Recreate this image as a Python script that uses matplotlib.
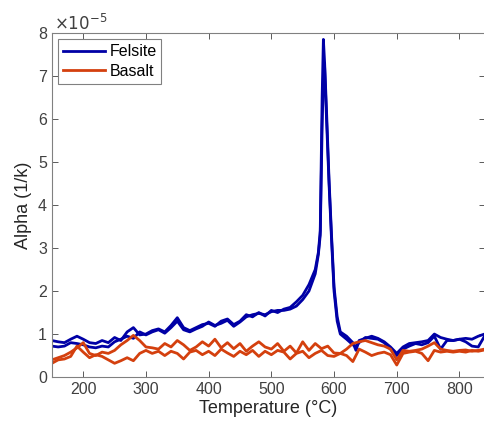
import matplotlib.pyplot as plt
import numpy as np

plt.rcParams['font.family'] = ['Liberation Sans', 'DejaVu Sans']

# temperature grids (degC)
felsiteTemp = [150, 160, 170, 180, 190, 200, 210, 220, 230, 240,
               250, 260, 270, 280, 290, 300, 310, 320, 330, 340,
               350, 360, 370, 380, 390, 400, 410, 420, 430, 440,
               450, 460, 470, 480, 490, 500, 510, 520, 530, 540,
               550, 560, 570, 575, 578, 581, 583, 585, 588, 592,
               596, 600, 605, 610, 620, 630, 635, 640, 650, 660,
               670, 680, 690, 700, 710, 720, 730, 740, 750, 760,
               770, 780, 790, 800, 810, 820, 830, 840]
basaltTemp = list(range(150, 841, 10))

# alpha values in units of 1e-5 1/K
felsiteRun1 = [0.85, 0.82, 0.80, 0.88, 0.95, 0.88, 0.80, 0.78, 0.85, 0.80,
               0.92, 0.85, 1.05, 1.15, 0.98, 1.00, 1.08, 1.12, 1.05, 1.20,
               1.38, 1.15, 1.08, 1.15, 1.22, 1.25, 1.18, 1.30, 1.35, 1.22,
               1.30, 1.45, 1.40, 1.50, 1.42, 1.55, 1.50, 1.58, 1.62, 1.75,
               1.90, 2.15, 2.50, 2.90, 3.40, 6.50, 7.85, 7.30, 6.20, 4.60,
               3.30, 2.10, 1.40, 1.05, 0.95, 0.80, 0.62, 0.85, 0.90, 0.95,
               0.90, 0.82, 0.70, 0.55, 0.70, 0.78, 0.80, 0.82, 0.85, 1.00,
               0.92, 0.88, 0.85, 0.88, 0.90, 0.88, 0.95, 1.00]
felsiteRun2 = [0.72, 0.70, 0.72, 0.80, 0.78, 0.75, 0.70, 0.68, 0.72, 0.70,
               0.82, 0.88, 0.95, 0.90, 1.05, 0.98, 1.05, 1.10, 1.02, 1.15,
               1.30, 1.10, 1.05, 1.12, 1.18, 1.28, 1.20, 1.25, 1.32, 1.18,
               1.28, 1.40, 1.45, 1.48, 1.45, 1.52, 1.55, 1.55, 1.58, 1.65,
               1.80, 2.00, 2.40, 2.85, 3.30, 5.80, 7.00, 7.20, 6.00, 4.50,
               3.20, 2.00, 1.30, 1.00, 0.88, 0.75, 0.72, 0.80, 0.92, 0.90,
               0.88, 0.80, 0.65, 0.50, 0.65, 0.72, 0.78, 0.75, 0.80, 0.95,
               0.65, 0.85, 0.85, 0.88, 0.82, 0.72, 0.70, 0.95]
basaltRun1 = [0.40, 0.45, 0.50, 0.58, 0.68, 0.80, 0.55, 0.50, 0.58, 0.55,
              0.62, 0.75, 0.85, 0.97, 0.85, 0.70, 0.68, 0.65, 0.78, 0.70,
              0.85, 0.75, 0.62, 0.70, 0.82, 0.72, 0.88, 0.68, 0.80, 0.66,
              0.78, 0.60, 0.72, 0.82, 0.70, 0.65, 0.78, 0.60, 0.72, 0.56,
              0.82, 0.62, 0.78, 0.66, 0.72, 0.56, 0.55, 0.65, 0.78, 0.82,
              0.85, 0.80, 0.75, 0.72, 0.65, 0.40, 0.62, 0.60, 0.62, 0.65,
              0.72, 0.80, 0.65, 0.62, 0.60, 0.62, 0.63, 0.60, 0.62, 0.65]
basaltRun2 = [0.32, 0.40, 0.42, 0.48, 0.72, 0.58, 0.45, 0.52, 0.48, 0.40,
              0.32, 0.38, 0.45, 0.38, 0.55, 0.62, 0.55, 0.60, 0.50, 0.60,
              0.55, 0.42, 0.58, 0.62, 0.52, 0.60, 0.50, 0.65, 0.56, 0.48,
              0.60, 0.52, 0.62, 0.48, 0.60, 0.52, 0.62, 0.58, 0.42, 0.55,
              0.60, 0.45, 0.55, 0.62, 0.50, 0.48, 0.55, 0.50, 0.36, 0.65,
              0.58, 0.50, 0.55, 0.58, 0.52, 0.28, 0.55, 0.58, 0.60, 0.55,
              0.38, 0.62, 0.58, 0.60, 0.58, 0.60, 0.58, 0.62, 0.60, 0.63]

blue = '#0000A6'
orange = '#D4400E'
grey = '#404040'

fig = plt.figure(figsize=(4.85, 4.28), dpi=100)
ax = fig.add_axes([0.107, 0.119, 0.892, 0.804])

ax.plot(felsiteTemp, felsiteRun1, color=blue, lw=2.0, label='Felsite')
ax.plot(felsiteTemp, felsiteRun2, color=blue, lw=2.0)
ax.plot(basaltTemp, basaltRun1, color=orange, lw=2.0, label='Basalt')
ax.plot(basaltTemp, basaltRun2, color=orange, lw=2.0)

ax.set_xlim(150, 840)
ax.set_ylim(0, 8)
ax.set_xticks(np.arange(200, 801, 100))
ax.set_yticks(np.arange(0, 9, 1))
ax.tick_params(direction='in', top=True, right=True, labelsize=11.5,
               colors=grey, length=4, width=0.6)
for s in ax.spines.values():
    s.set_color('#808080')
    s.set_linewidth(0.8)

ax.set_xlabel('Temperature (\u00b0C)', fontsize=13, color='#262626', labelpad=2)
ax.set_ylabel('Alpha (1/k)', fontsize=13, color='#262626', labelpad=4)
ax.text(0.005, 1.0, r'$\times10^{-5}$', transform=ax.transAxes,
        fontsize=12, color=grey, ha='left', va='bottom')

leg = ax.legend(loc='upper left', fontsize=11.5, handlelength=2.6,
                handletextpad=0.3, borderpad=0.3, labelspacing=0.3,
                fancybox=False, framealpha=1, borderaxespad=0.4)
leg.get_frame().set_edgecolor('#808080')
leg.get_frame().set_linewidth(0.8)

fig.savefig('out.png', dpi=100)
